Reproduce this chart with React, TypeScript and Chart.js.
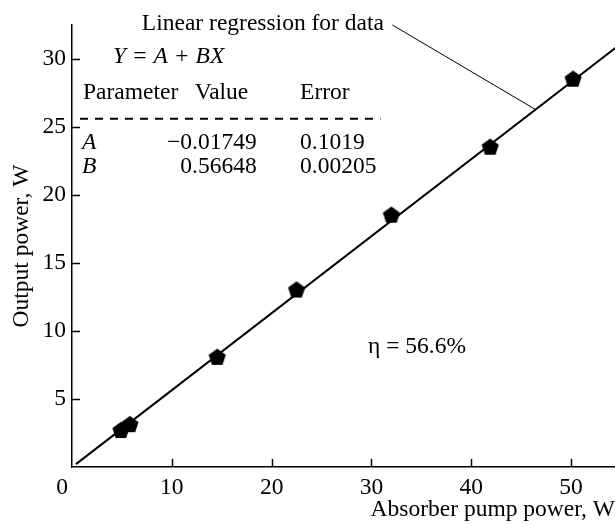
import React, { useEffect, useRef } from 'react';
import { Chart, registerables } from 'chart.js';

Chart.register(...registerables);

// Measured data (Absorber pump power, W -> Output power, W)
const pumpPower = [4.9, 5.8, 14.55, 22.5, 32.0, 41.9, 50.2];
const outputPower = [2.72, 3.15, 8.1, 13.05, 18.55, 23.55, 28.55];

// Linear regression line end points (Y = A + BX)
const fitX = [0.4, 56];
const fitY = [0.21, 31.7];

// Leader line from the "Linear regression for data" label to the fit line
const leaderX = [32.1, 46.4];
const leaderY = [32.5, 26.3];

const xTicks = [0, 10, 20, 30, 40, 50];
const yTicks = [5, 10, 15, 20, 25, 30];

const xTitle = 'Absorber pump power, W';
const yTitle = 'Output power, W';

const FONT = '"Liberation Serif", "Times New Roman", serif';
const FS = 23.5;

type Ann = { text: string; x: number; y: number; align: CanvasTextAlign; italic?: boolean };

const annotations: Ann[] = [
  { text: 'Linear regression for data', x: 7.0, y: 32.13, align: 'left' },
  { text: 'Y = A + BX', x: 4.1, y: 29.7, align: 'left', italic: true },
  { text: 'Parameter', x: 1.1, y: 27.06, align: 'left' },
  { text: 'Value', x: 12.3, y: 27.06, align: 'left' },
  { text: 'Error', x: 22.85, y: 27.06, align: 'left' },
  { text: 'A', x: 1.0, y: 23.4, align: 'left', italic: true },
  { text: '\u22120.01749', x: 18.5, y: 23.4, align: 'right' },
  { text: '0.1019', x: 22.85, y: 23.4, align: 'left' },
  { text: 'B', x: 1.0, y: 21.6, align: 'left', italic: true },
  { text: '0.56648', x: 18.5, y: 21.6, align: 'right' },
  { text: '0.00205', x: 22.85, y: 21.6, align: 'left' },
  { text: '\u03b7 = 56.6%', x: 29.66, y: 8.4, align: 'left' },
  { text: '0', x: -1.0, y: -2.0, align: 'center' },
];

const dashedLine = { x1: 0.8, x2: 30.9, y: 25.6 };

function makePentagon(): HTMLCanvasElement {
  const c = document.createElement('canvas');
  c.width = 20;
  c.height = 20;
  const g = c.getContext('2d')!;
  g.beginPath();
  for (let i = 0; i < 5; i++) {
    const a = (-90 + i * 72) * Math.PI / 180;
    const px = 10 + 9 * Math.cos(a);
    const py = 10.8 + 9 * Math.sin(a);
    if (i === 0) g.moveTo(px, py); else g.lineTo(px, py);
  }
  g.closePath();
  g.fillStyle = '#000';
  g.fill();
  return c;
}

const decorPlugin = {
  id: 'decor',
  afterDatasetsDraw(chart: any) {
    const ctx = chart.ctx as CanvasRenderingContext2D;
    const xs = chart.scales.x;
    const ys = chart.scales.y;
    ctx.save();
    ctx.strokeStyle = '#000';
    ctx.lineWidth = 1.5;
    const bottom = ys.bottom;
    const left = xs.left;
    xTicks.forEach((v) => {
      if (v === 0) return;
      const px = Math.round(xs.getPixelForValue(v)) + 0.5;
      ctx.beginPath();
      ctx.moveTo(px, bottom);
      ctx.lineTo(px, bottom - 8);
      ctx.stroke();
    });
    yTicks.forEach((v) => {
      const py = Math.round(ys.getPixelForValue(v)) + 0.5;
      ctx.beginPath();
      ctx.moveTo(left, py);
      ctx.lineTo(left + 8, py);
      ctx.stroke();
    });
    ctx.lineWidth = 2;
    ctx.setLineDash([8, 7]);
    const dy = ys.getPixelForValue(dashedLine.y);
    ctx.beginPath();
    ctx.moveTo(xs.getPixelForValue(dashedLine.x1), dy);
    ctx.lineTo(xs.getPixelForValue(dashedLine.x2), dy);
    ctx.stroke();
    ctx.setLineDash([]);
    ctx.fillStyle = '#000';
    ctx.textBaseline = 'alphabetic';
    annotations.forEach((a) => {
      ctx.font = `${a.italic ? 'italic ' : ''}${FS}px ${FONT}`;
      ctx.textAlign = a.align;
      ctx.fillText(a.text, xs.getPixelForValue(a.x), ys.getPixelForValue(a.y));
    });
    ctx.restore();
  },
};

export default function App() {
  const ref = useRef<HTMLCanvasElement | null>(null);

  useEffect(() => {
    document.body.style.margin = '0';
    const canvas = ref.current;
    if (!canvas) return;
    const pent = makePentagon();
    const chart = new Chart(canvas, {
      type: 'scatter',
      data: {
        datasets: [
          {
            data: pumpPower.map((x, i) => ({ x, y: outputPower[i] })),
            pointStyle: pent as any,
            pointRadius: 9,
            showLine: false,
            backgroundColor: '#000',
            borderColor: '#000',
          },
          {
            data: fitX.map((x, i) => ({ x, y: fitY[i] })),
            showLine: true,
            borderColor: '#000',
            borderWidth: 2,
            pointRadius: 0,
          },
          {
            data: leaderX.map((x, i) => ({ x, y: leaderY[i] })),
            showLine: true,
            borderColor: '#000',
            borderWidth: 1,
            pointRadius: 0,
            clip: false as any,
          },
        ],
      },
      options: {
        animation: false,
        responsive: false,
        devicePixelRatio: 1,
        layout: { autoPadding: false, padding: { top: 25, left: 0, right: 0, bottom: 0 } },
        plugins: { legend: { display: false }, tooltip: { enabled: false } },
        events: [],
        scales: {
          x: {
            type: 'linear',
            min: 0,
            max: 54.4,
            afterFit: (s: any) => { s.height = 58; s.paddingLeft = 0; s.paddingRight = 0; },
            afterBuildTicks: (s: any) => { s.ticks = xTicks.map((v) => ({ value: v })); },
            border: { display: true, color: '#000', width: 1.5 },
            grid: { drawOnChartArea: false, drawTicks: false },
            ticks: {
              color: '#000',
              font: { family: FONT, size: FS },
              padding: 7,
              maxRotation: 0,
              callback: (v: any) => (v === 0 ? '' : String(v)),
            },
            title: {
              display: true,
              text: xTitle,
              align: 'end',
              color: '#000',
              font: { family: FONT, size: FS },
              padding: { top: 0, bottom: 1 },
            },
          },
          y: {
            type: 'linear',
            min: 0,
            max: 32.5,
            afterFit: (s: any) => { s.width = 72; s.paddingTop = 0; s.paddingBottom = 0; },
            afterBuildTicks: (s: any) => { s.ticks = yTicks.map((v) => ({ value: v })); },
            border: { display: true, color: '#000', width: 1.5 },
            grid: { drawOnChartArea: false, drawTicks: false },
            ticks: { color: '#000', font: { family: FONT, size: FS }, padding: 6 },
            title: {
              display: true,
              text: yTitle,
              color: '#000',
              font: { family: FONT, size: FS },
              padding: { top: 8, bottom: 0 },
            },
          },
        },
      },
      plugins: [decorPlugin],
    });
    return () => chart.destroy();
  }, []);

  return (
    <div style={{ width: 615, height: 525 }}>
      <canvas ref={ref} width={615} height={525} />
    </div>
  );
}
